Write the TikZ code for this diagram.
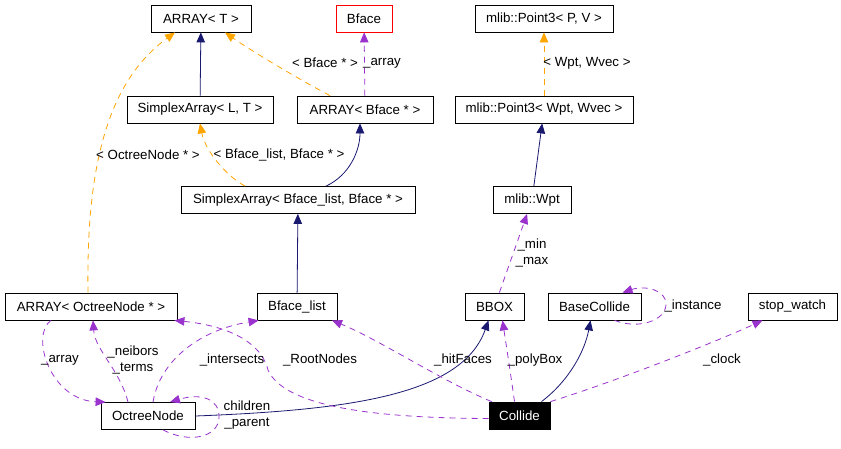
\documentclass[tikz,border=0pt]{standalone}
\usepackage{fontspec}
\setmainfont{Liberation Sans}
\usetikzlibrary{arrows.meta}
\definecolor{inhblue}{HTML}{191970}
\definecolor{tmplorange}{HTML}{FFA500}
\definecolor{usepurple}{HTML}{9A32CD}

\begin{document}
\begin{tikzpicture}[x=1pt, y=-1pt,
  cls/.style={draw, line width=0.8pt, minimum height=27, inner sep=0,
    font=\fontsize{13.3}{16}\selectfont},
  lbl/.style={inner sep=0, align=center, font=\fontsize{13.3}{16}\selectfont},
  tip/.style={-{Triangle[length=10pt,width=8.5pt]}},
  inh/.style={tip, draw=inhblue, line width=0.8pt},
  tmpl/.style={tip, draw=tmplorange, line width=0.8pt, dash pattern=on 6pt off 5pt},
  use/.style={tip, draw=usepurple, line width=0.8pt, dash pattern=on 6pt off 5pt}]
\useasboundingbox (0,0) rectangle (841,448);

% Row 1
\node[cls, minimum width=100] (arrT) at (201,18.5) {ARRAY< T >};
\node[cls, minimum width=56, draw=red] (bface) at (364,18.5) {Bface};
\node[cls, minimum width=138] (ptPV) at (544,18.5) {mlib::Point3< P, V >};

% Row 2
\node[cls, minimum width=146] (smpLT) at (200,109.5) {SimplexArray< L, T >};
\node[cls, minimum width=136] (arrBf) at (365,109.5) {ARRAY< Bface * >};
\node[cls, minimum width=178] (ptWW) at (544,109.5) {mlib::Point3< Wpt, Wvec >};

% Row 3
\node[cls, minimum width=234] (smpBL) at (298,200) {SimplexArray< Bface\_list, Bface * >};
\node[cls, minimum width=78] (wpt) at (532,200) {mlib::Wpt};

% Row 4
\node[cls, minimum width=172] (arrOct) at (91,306.5) {ARRAY< OctreeNode * >};
\node[cls, minimum width=80] (bflist) at (297,306.5) {Bface\_list};
\node[cls, minimum width=59] (bbox) at (494.5,306.5) {BBOX};
\node[cls, minimum width=93] (basecol) at (594.5,306.5) {BaseCollide};
\node[cls, minimum width=89] (watch) at (792.5,306.5) {stop\_watch};

% Row 5
\node[cls, minimum width=94] (octree) at (148,416) {OctreeNode};
\node[cls, minimum width=61, fill=black, text=white] (collide) at (519.5,415.5) {Collide};

% Inheritance
\draw[inh] (smpLT) -- (arrT);
\draw[inh] ([xshift=28]smpBL.north) .. controls (350,175) and (360,150) .. ([xshift=-5]arrBf.south);
\draw[inh] (bflist) -- (smpBL);
\draw[inh] (wpt) -- (ptWW);
\draw[inh] (octree.east) .. controls (350,410) and (462,395) .. ([xshift=-6]bbox.south);
\draw[inh] ([xshift=22]collide.north) .. controls (570,380) and (585,350) .. ([xshift=-4]basecol.south);

% Template instances
\draw[tmpl] ([xshift=-35]arrBf.north) .. controls (300,80) and (250,50) .. ([xshift=24]arrT.south);
\draw[tmpl] ([xshift=-53]smpBL.north) .. controls (225,175) and (205,150) .. (smpLT.south);
\draw[tmpl] ([xshift=-3]arrOct.north) .. controls (86,160) and (110,80) .. ([xshift=-26]arrT.south);
\draw[tmpl] (ptWW) -- (ptPV);

% Usage
\draw[use] (arrBf) -- (bface);
\draw[use] (bbox) -- (wpt);
\draw[use] ([xshift=-40]arrOct.south) .. controls (30,335) and (50,400) .. ([xshift=5]octree.north west);
\draw[use] ([xshift=-20]octree.north) .. controls (120,370) and (95,350) .. ([xshift=2]arrOct.south);
\draw[use] ([xshift=5]octree.north) .. controls (160,360) and (200,330) .. ([xshift=2]bflist.south west);
\draw[use] ([xshift=15]octree.south) .. controls (190,444) and (218,437) .. (219,418)
  .. controls (220,398) and (200,393) .. ([xshift=22]octree.north);
\draw[use] ([yshift=-3]collide.west) .. controls (380,418) and (285,408) .. (268,370)
  .. controls (260,338) and (220,325) .. ([xshift=-3]arrOct.south east);
\draw[use] ([xshift=3]collide.north west) .. controls (440,380) and (380,340) .. ([xshift=35]bflist.south);
\draw[use] ([xshift=-5]collide.north) .. controls (510,370) .. ([xshift=8]bbox.south);
\draw[use] ([xshift=20]basecol.south) .. controls (640,330) and (665,320) .. (666,305)
  .. controls (667,290) and (645,285) .. ([xshift=28]basecol.north);
\draw[use] (collide.north east) .. controls (620,380) and (720,340) .. ([xshift=-30]watch.south);

% Labels
\node[lbl] (lBf) at (325,63) {< Bface * >};
\node[lbl] (lArr) at (382,63) {\_array};
\node[lbl] (lWW) at (587,63) {< Wpt, Wvec >};
\node[lbl] (lOct) at (148,155) {< OctreeNode * >};
\node[lbl] (lBL) at (279,155) {< Bface\_list, Bface * >};
\node[lbl] (lMin) at (532,253) {\_min\\\_max};
\node[lbl] (lArr2) at (60,360) {\_array};
\node[lbl] (lNei) at (133,360) {\_neibors\\\_terms};
\node[lbl] (lInt) at (232,360) {\_intersects};
\node[lbl] (lRoot) at (320,360) {\_RootNodes};
\node[lbl] (lHit) at (463,360) {\_hitFaces};
\node[lbl] (lPoly) at (535,360) {\_polyBox};
\node[lbl] (lClk) at (722,360) {\_clock};
\node[lbl] (lChi) at (247,415) {children\\\_parent};
\node[lbl] (lIns) at (693,306) {\_instance};
\end{tikzpicture}
\end{document}
